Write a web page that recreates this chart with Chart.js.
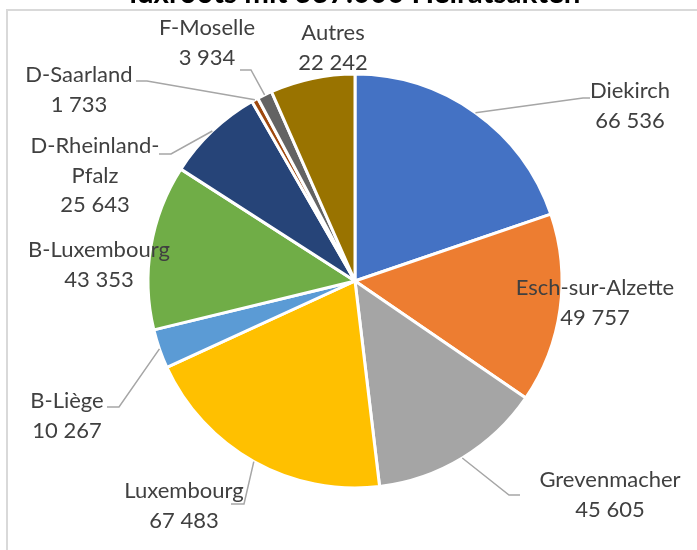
<!DOCTYPE html>
<html>
<head>
<meta charset="utf-8">
<script src="https://cdn.jsdelivr.net/npm/chart.js@4.4.0/dist/chart.umd.js"></script>
<style>
  html, body { margin: 0; padding: 0; background: #fff; overflow: hidden; width: 697px; height: 550px; }
  #wrap { position: absolute; left: 0; top: -24px; width: 697px; height: 600px; }
</style>
</head>
<body>
<div id="wrap"><canvas id="chart"></canvas></div>
<script>
// data
const regions = ['Diekirch', 'Esch-sur-Alzette', 'Grevenmacher', 'Luxembourg', 'B-Liège',
  'B-Luxembourg', 'D-Rheinland-Pfalz', 'D-Saarland', 'F-Moselle', 'Autres'];
const acts = [66536, 49757, 45605, 67483, 10267, 43353, 25643, 1733, 3934, 22242];
const titleText = 'luxroots mit 337.000 Heiratsakten';

// label text wrapping (name lines), value line is added below
const labelLines = [['Diekirch'], ['Esch-sur-Alzette'], ['Grevenmacher'], ['Luxembourg'], ['B-Liège'],
  ['B-Luxembourg'], ['D-Rheinland-', 'Pfalz'], ['D-Saarland'], ['F-Moselle'], ['Autres']];

// styles
const sliceColors = ['#4472C4', '#ED7D31', '#A5A5A5', '#FFC000', '#5B9BD5',
  '#70AD47', '#264478', '#9E480E', '#636363', '#997300'];

// label placement relative to pie centre; elbow = [x, y, endX] of leader line
const labelLayout = [
  { dx: 275, dy: -190, elbow: [228, -183, 235] },
  { dx: 240, dy: 7 },
  { dx: 255, dy: 199, elbow: [154, 214, 165] },
  { dx: -171, dy: 210, elbow: [-111, 223, -124] },
  { dx: -288, dy: 120, elbow: [-236, 126, -248] },
  { dx: -256, dy: -31 },
  { dx: -260, dy: -135, elbow: [-184, -127, -196] },
  { dx: -276, dy: -206, elbow: [-208, -200, -219] },
  { dx: -148, dy: -253, elbow: [-104, -211, -115] },
  { dx: -22, dy: -248 }
];

const fmt = v => String(v).replace(/\B(?=(\d{3})+(?!\d))/g, ' ');

const pieLabels = {
  id: 'pieLabels',
  beforeDraw(chart) {
    const ctx = chart.ctx;
    ctx.save();
    ctx.strokeStyle = '#d9d9d9';
    ctx.lineWidth = 2;
    ctx.strokeRect(7, 34, 900, 900);
    ctx.restore();
  },
  afterDatasetsDraw(chart) {
    const ctx = chart.ctx;
    const meta = chart.getDatasetMeta(0);
    ctx.save();
    meta.data.forEach((arc, i) => {
      const p = arc.getProps(['x', 'y', 'startAngle', 'endAngle', 'outerRadius'], true);
      const mid = (p.startAngle + p.endAngle) / 2;
      const L = labelLayout[i];
      if (L.elbow) {
        ctx.strokeStyle = '#a6a6a6';
        ctx.lineWidth = 1.5;
        ctx.beginPath();
        ctx.moveTo(p.x + Math.cos(mid) * p.outerRadius, p.y + Math.sin(mid) * p.outerRadius);
        ctx.lineTo(p.x + L.elbow[0], p.y + L.elbow[1]);
        ctx.lineTo(p.x + L.elbow[2], p.y + L.elbow[1]);
        ctx.stroke();
      }
      const lines = labelLines[i].concat([fmt(acts[i])]);
      ctx.fillStyle = '#404040';
      ctx.font = '22px Lato';
      ctx.textAlign = 'center';
      ctx.textBaseline = 'middle';
      lines.forEach((t, k) => ctx.fillText(t, p.x + L.dx, p.y + L.dy + k * 29.5));
    });
    ctx.restore();
  }
};

new Chart(document.getElementById('chart'), {
  type: 'pie',
  data: {
    labels: regions,
    datasets: [{
      data: acts,
      backgroundColor: sliceColors,
      borderColor: '#ffffff',
      borderWidth: 3
    }]
  },
  options: {
    responsive: true,
    maintainAspectRatio: false,
    devicePixelRatio: 1,
    animation: false,
    radius: 207,
    layout: { padding: { left: 13, right: 0, top: 0, bottom: 25.4 } },
    plugins: {
      legend: { display: false },
      tooltip: { enabled: false },
      title: {
        display: true,
        text: titleText,
        color: '#000',
        font: { family: 'Lato', size: 29.5, weight: 'bold' },
        padding: 0
      }
    }
  },
  plugins: [pieLabels]
});
</script>
</body>
</html>
